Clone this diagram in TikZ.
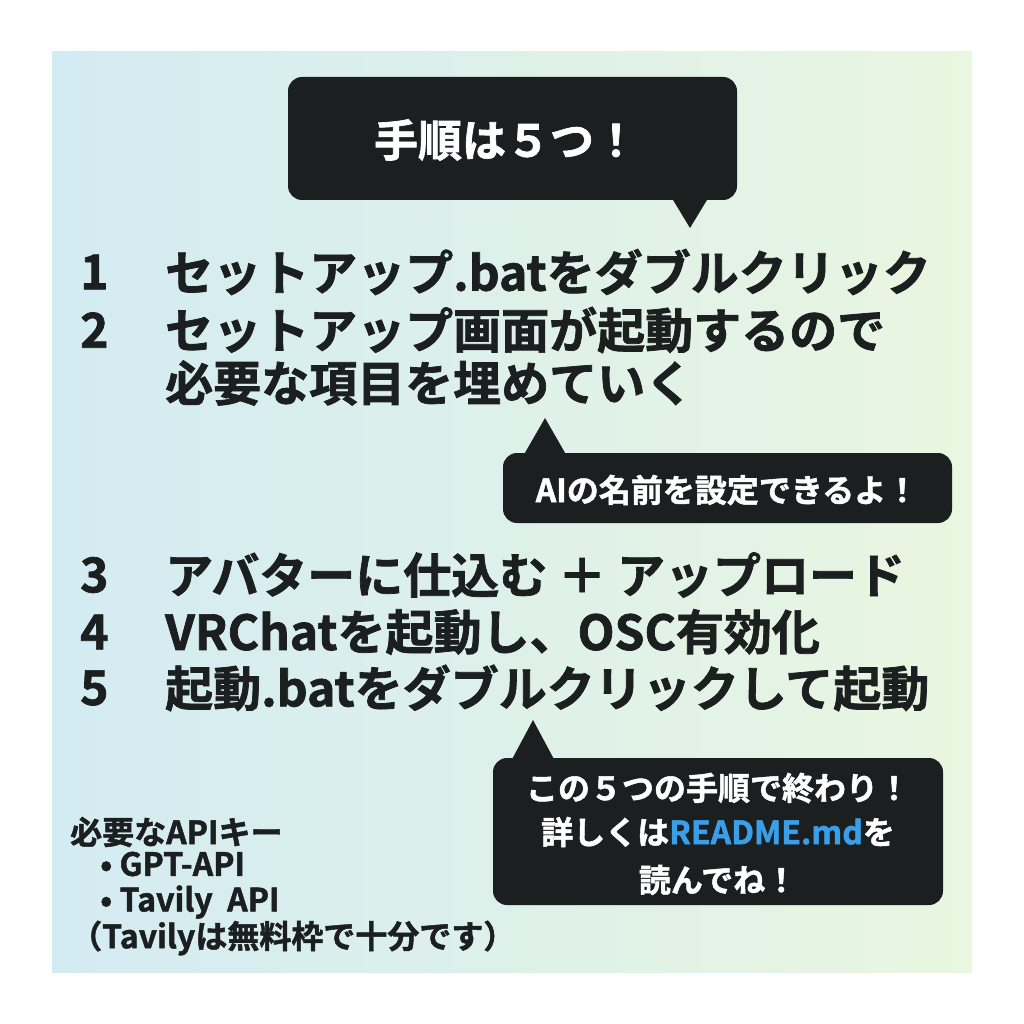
\documentclass[tikz,border=0pt]{standalone}
\usepackage{fontspec}
\setmainfont{Noto Sans CJK JP}[BoldFont={* Bold},BoldFeatures={FakeBold=1.5}]
\definecolor{bub}{HTML}{1B1F1F}
\definecolor{lblue}{HTML}{D3EBF3}
\definecolor{lgreen}{HTML}{E9F6E0}
\definecolor{rd}{HTML}{3A9FE8}
\begin{document}
\begin{tikzpicture}[x=1pt,y=-1pt,
  bubble/.style={fill=bub,rounded corners=14pt},
  big/.style={font=\fontsize{48}{52}\selectfont\bfseries,text=bub,anchor=west,inner sep=0},
  bt/.style={font=\fontsize{32}{34}\selectfont\bfseries,text=white,inner sep=0},
  small/.style={font=\fontsize{32}{34}\selectfont\bfseries,text=bub,anchor=west,inner sep=0}]
\useasboundingbox (0,0) rectangle (1024,1024);
\fill[white] (0,0) rectangle (1024,1024);
\shade[left color=lblue,right color=lgreen] (52,52) rectangle (972,972);
% bubble 1
\fill[bubble] (288,77) rectangle (737,200);
\fill[bub] (670,195) -- (690,228) -- (710,195) -- cycle;
\node[bt,font=\fontsize{44}{48}\selectfont\bfseries] (t1) at (506,140) {手順は５つ！};
% list
\node[big] (n1) at (80,272) {1};
\node[big] (l1) at (165,272) {セットアップ.batをダブルクリック};
\node[big] (n2) at (80,330) {2};
\node[big] (l2) at (165,330) {セットアップ画面が起動するので};
\node[big] (l2b) at (165,383) {必要な項目を埋めていく};
% bubble 2
\fill[bubble] (503,453) rectangle (952,523);
\fill[bub] (522,458) -- (545,418) -- (568,458) -- cycle;
\node[bt] (t2) at (727,490) {AIの名前を設定できるよ！};
\node[big] (n3) at (80,575) {3};
\node[big] (l3) at (165,575) {アバターに仕込む\ ＋\ アップロード};
\node[big] (n4) at (80,632) {4};
\node[big] (l4) at (165,632) {VRChatを起動し、OSC有効化};
\node[big] (n5) at (80,688) {5};
\node[big] (l5) at (165,688) {起動.batをダブルクリックして起動};
% bubble 3
\fill[bubble] (493,758) rectangle (943,905);
\fill[bub] (510,763) -- (533,720) -- (556,763) -- cycle;
\node[bt] (t3a) at (718,788) {この５つの手順で終わり！};
\node[bt] (t3b) at (718,832) {詳しくは{\color{rd}README.md}を};
\node[bt] (t3c) at (718,880) {読んでね！};
% bottom-left
\node[small] (k0) at (70,832) {必要なAPIキー};
\node[small] (k1) at (100,864) {• GPT-API};
\node[small] (k2) at (100,902) {• Tavily\ \ API};
\node[small] (k3) at (70,938) {（Tavilyは無料枠で十分です）};
\end{tikzpicture}
\end{document}
